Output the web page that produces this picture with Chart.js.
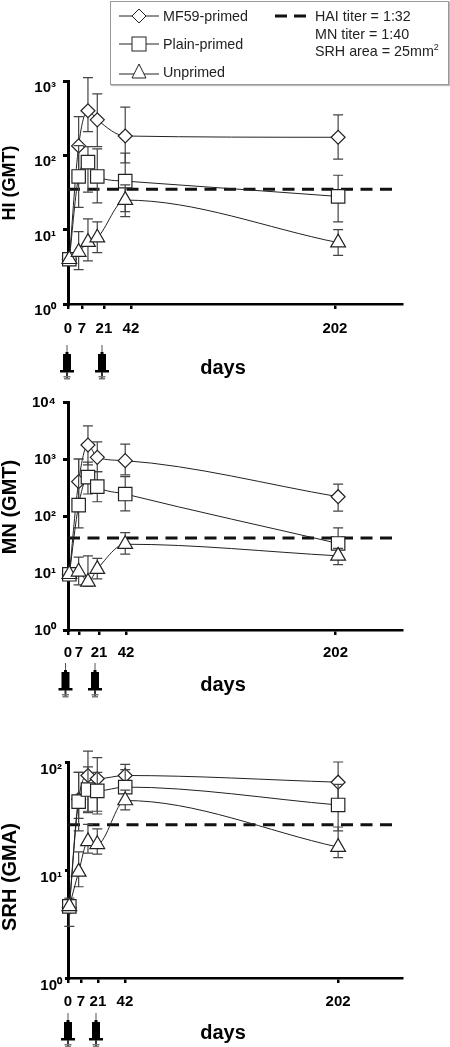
<!DOCTYPE html>
<html>
<head>
<meta charset="utf-8">
<title>Antibody titers</title>
<script src="https://cdn.jsdelivr.net/npm/chart.js@4"></script>
<style>
  body { margin: 0; background: #fff; width: 450px; height: 1047px; position: relative; overflow: hidden; font-family: "Liberation Sans", Arial, sans-serif; }
  canvas { position: absolute; left: 0; }
  #legend { position: absolute; left: 110px; top: 1px; width: 337px; height: 82px; border: 1px solid #999; box-shadow: 1px 1px 1px #bbb; background: #fff; z-index: 2; color: #222; font-size: 14.3px; }
  #legend span, #legend svg { position: absolute; white-space: nowrap; line-height: 16px; }
  #legend sup { font-size: 9px; line-height: 0; }
</style>
</head>
<body>
<div id="legend">
  <svg style="left:7px;top:3px" width="42" height="22"><path d="M1 11H41" stroke="#222"/><path d="M21 4L28 11L21 18L14 11Z" fill="#fff" stroke="#222"/></svg>
  <span style="left:52px;top:6px">MF59-primed</span>
  <svg style="left:7px;top:31px" width="42" height="22"><path d="M1 11H41" stroke="#222"/><rect x="14" y="4" width="14" height="14" fill="#fff" stroke="#222"/></svg>
  <span style="left:52px;top:34px">Plain-primed</span>
  <svg style="left:7px;top:58px" width="42" height="22"><path d="M1 14H41" stroke="#222"/><path d="M21 4L28 18H14Z" fill="#fff" stroke="#222"/></svg>
  <span style="left:52px;top:62px">Unprimed</span>
  <svg style="left:164px;top:7px" width="34" height="14"><path d="M0 7H32" stroke="#111" stroke-width="3" stroke-dasharray="12 7"/></svg>
  <span style="left:204px;top:6px">HAI titer = 1:32</span>
  <span style="left:204px;top:24px">MN titer = 1:40</span>
  <span style="left:204px;top:41px">SRH area = 25mm<sup>2</sup></span>
</div>
<canvas id="hiChart" width="450" height="330" style="top:60px"></canvas>
<canvas id="mnChart" width="450" height="340" style="top:372px"></canvas>
<canvas id="srhChart" width="450" height="317" style="top:730px"></canvas>

<script>
// sampling days
const days = [0, 7, 14, 21, 42, 202];
const tickLabels = ['0', '7', '21', '42', '202'];
const superDigits = { 0: '⁰', 1: '¹', 2: '²', 3: '³', 4: '⁴' };

// HI panel
const hiMf = [4, 134, 398, 300, 182, 175];
const hiMfUp = [null, 331, 1110, 670, 444, 350];
const hiMfLo = [null, 57, 208, 131, 79, 89];
const hiPlain = [4, 52, 81, 52, 45, 28];
const hiPlainUp = [null, 135, 131, 122, 107, 54];
const hiPlainLo = [null, 20, 32, 23, 17.5, 12.7];
const hiUn = [4, 5, 6.8, 7.8, 25, 6.7];
const hiUnUp = [null, 9.4, 14, 12.7, 40, 10];
const hiUnLo = [null, 2.9, 3.8, 4.9, 15, 4.5];
const hiCut = 35;
const hiTicks = [-1, 9.5, 26, 46.3, 199.6];

// MN panel
const mnMf = [9.5, 400, 1760, 1070, 935, 218];
const mnMfUp = [null, 1000, 3800, 2000, 1820, 363];
const mnMfLo = [null, 190, 790, 600, 525, 122];
const mnPlain = [9.5, 155, 480, 327, 243, 33];
const mnPlainUp = [null, 1000, 880, 600, 490, 62];
const mnPlainLo = [null, 62, 243, 178, 123, 18];
const mnUn = [9.5, 10.5, 7, 11.7, 32, 20];
const mnUnUp = [null, 19, 20, 18, 51, 27];
const mnUnLo = [null, 6.2, 5.9, 7.9, 21.5, 14];
const mnCut = 41;
const mnTicks = [-1, 7.3, 22.3, 42.6, 200];

// SRH panel
const srhMf = [4.5, 45, 75, 70, 75, 65];
const srhMfUp = [5.5, 80, 126, 110, 95, 100];
const srhMfLo = [3, 30, 34, 33, 55, 42];
const srhPlain = [4.6, 43, 55.6, 54, 58.6, 40];
const srhPlainUp = [null, 80, 90, 80, 85, 62];
const srhPlainLo = [null, 23, 35, 35, 42, 23];
const srhUn = [4.6, 9.6, 18.4, 17.3, 44, 16.3];
const srhUnUp = [null, 14.7, 26.5, 24, 55, 25];
const srhUnLo = [null, 7, 14.3, 14, 36, 13];
const srhCut = 26.3;
const srhTicks = [-1, 8.8, 21.5, 41.8, 202];

const ink = '#222';

function points(ys) {
  return days.map((d, i) => ({ x: d, y: ys[i] }));
}

function series(label, ys, up, lo, style, radius, order) {
  return {
    label, data: points(ys), errUp: up, errLo: lo, order,
    borderColor: ink, borderWidth: 1, backgroundColor: '#fff',
    pointStyle: style, pointRadius: radius, pointBorderWidth: 1.2,
    pointBackgroundColor: '#fff', pointBorderColor: ink,
    cubicInterpolationMode: 'monotone', clip: false
  };
}

// error bars go under each series' own markers
const errorBars = {
  id: 'errorBars',
  beforeDatasetDraw(chart, args) {
    const ds = chart.data.datasets[args.index];
    if (!ds.errUp) return;
    const { x, y } = chart.scales;
    const c = chart.ctx;
    c.save();
    c.strokeStyle = '#444';
    c.lineWidth = 1.2;
    days.forEach((d, i) => {
      if (ds.errUp[i] == null) return;
      const px = x.getPixelForValue(d);
      const top = y.getPixelForValue(ds.errUp[i]);
      const bot = y.getPixelForValue(ds.errLo[i]);
      c.beginPath();
      c.moveTo(px, top); c.lineTo(px, bot);
      c.moveTo(px - 5, top); c.lineTo(px + 5, top);
      c.moveTo(px - 5, bot); c.lineTo(px + 5, bot);
      c.stroke();
    });
    c.restore();
  }
};

function syringe(c, x, y0) {
  c.fillStyle = '#555';
  c.fillRect(x - 0.5, y0, 1, 9);
  c.fillStyle = '#000';
  c.fillRect(x - 1.5, y0 + 7, 3, 2);
  c.fillRect(x - 4, y0 + 9, 8, 17);
  c.fillRect(x - 7, y0 + 25, 14, 2.5);
  c.fillStyle = '#333';
  c.fillRect(x - 1, y0 + 27, 2, 6);
  c.fillStyle = '#777';
  c.fillRect(x - 3.5, y0 + 31, 7, 1.5);
  c.fillRect(x - 3, y0 + 33, 6, 1.5);
}

// axis names and the vaccination marks
const panelText = {
  id: 'panelText',
  afterDraw(chart, args, o) {
    const c = chart.ctx;
    c.save();
    c.fillStyle = '#000';
    c.textAlign = 'center';
    c.textBaseline = 'middle';
    c.font = 'bold 20px "Liberation Sans"';
    c.fillText('days', o.daysX, o.daysY);
    c.translate(o.titleX, o.titleY);
    c.rotate(-Math.PI / 2);
    c.font = 'bold ' + o.titleSize + 'px "Liberation Sans"';
    c.fillText(o.title, 0, 0);
    c.restore();
    o.shots.forEach(x => syringe(c, x, o.shotY));
  }
};

function makePanel(id, p) {
  return new Chart(document.getElementById(id), {
    type: 'line',
    data: {
      datasets: [
        { label: 'cutoff', data: [{ x: -1, y: p.cut }, { x: 248, y: p.cut }], borderColor: '#111', borderWidth: 3,
          borderDash: [12, 7.5], pointRadius: 0, order: 4, clip: false },
        series('MF59-primed', p.mf, p.mfUp, p.mfLo, 'rectRot', 7, 3),
        series('Plain-primed', p.plain, p.plainUp, p.plainLo, 'rect', 9.5, 2),
        series('Unprimed', p.un, p.unUp, p.unLo, 'triangle', 8.5, 1)
      ]
    },
    options: {
      responsive: false,
      animation: false,
      layout: { padding: { left: 0, right: 48, top: p.top, bottom: 0 } },
      plugins: { legend: { display: false }, tooltip: { enabled: false }, panelText: p.text },
      scales: {
        x: {
          type: 'linear', min: -1, max: 250,
          border: { display: true, color: '#000', width: 2.5 },
          grid: { display: true, drawOnChartArea: false, drawTicks: true, tickLength: 5, lineWidth: 2.5, color: '#000' },
          ticks: { autoSkip: false, maxRotation: 0, padding: p.xPad, color: '#000', font: { family: 'Liberation Sans', size: 15, weight: 'bold' },
            callback: (v) => tickLabels[p.ticks.indexOf(v)] },
          afterBuildTicks(s) { s.ticks = p.ticks.map(v => ({ value: v })); },
          afterFit(s) { s.height = p.below; }
        },
        y: {
          type: 'logarithmic', min: 1, max: p.yMax,
          border: { display: true, color: '#000', width: 3 },
          grid: { display: true, drawOnChartArea: false, drawTicks: true, tickLength: p.yTick, lineWidth: 3, color: '#000' },
          ticks: { autoSkip: false, padding: p.yPad, labelOffset: p.yOff, color: '#000', font: { family: 'Liberation Sans', size: 15, weight: 'bold' },
            callback: (v) => '10' + superDigits[Math.round(Math.log10(v))] },
          afterBuildTicks(s) {
            const t = [];
            for (let v = 1; v <= p.yMax; v *= 10) t.push({ value: v });
            s.ticks = t;
          },
          afterFit(s) { s.width = 68; }
        }
      }
    },
    plugins: [errorBars, panelText]
  });
}

makePanel('hiChart', {
  cut: hiCut, mf: hiMf, mfUp: hiMfUp, mfLo: hiMfLo, plain: hiPlain, plainUp: hiPlainUp, plainLo: hiPlainLo,
  un: hiUn, unUp: hiUnUp, unLo: hiUnLo, ticks: hiTicks, yMax: 1000, top: 21, below: 86, xPad: 11, yPad: 7, yOff: 7, yTick: 5,
  text: { title: 'HI (GMT)', titleSize: 18, titleX: 10, titleY: 123, daysX: 223, daysY: 308, shots: [67, 102], shotY: 285 }
});
makePanel('mnChart', {
  cut: mnCut, mf: mnMf, mfUp: mnMfUp, mfLo: mnMfLo, plain: mnPlain, plainUp: mnPlainUp, plainLo: mnPlainLo,
  un: mnUn, unUp: mnUnUp, unLo: mnUnLo, ticks: mnTicks, yMax: 10000, top: 30, below: 82, xPad: 9, yPad: 7, yOff: 1, yTick: 5,
  text: { title: 'MN (GMT)', titleSize: 20, titleX: 10, titleY: 135, daysX: 223, daysY: 313, shots: [65.5, 95], shotY: 291 }
});
makePanel('srhChart', {
  cut: srhCut, mf: srhMf, mfUp: srhMfUp, mfLo: srhMfLo, plain: srhPlain, plainUp: srhPlainUp, plainLo: srhPlainLo,
  un: srhUn, unUp: srhUnUp, unLo: srhUnLo, ticks: srhTicks, yMax: 100, top: 32, below: 69, xPad: 10, yPad: 3, yOff: 8, yTick: 3,
  text: { title: 'SRH (GMA)', titleSize: 20, titleX: 10, titleY: 147, daysX: 223, daysY: 303, shots: [68, 96], shotY: 283 }
});
</script>
</body>
</html>
